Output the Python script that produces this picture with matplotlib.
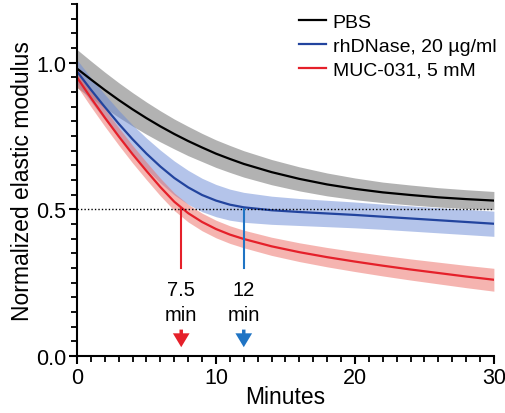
import matplotlib

matplotlib.use("Agg")
import matplotlib.pyplot as plt
from matplotlib.ticker import MultipleLocator

plt.rcParams["font.family"] = ["Liberation Sans", "DejaVu Sans"]

# minutes
minutes = [0, 1, 2, 3, 4, 5, 6, 7, 8, 9, 10, 11, 12, 14, 16, 18, 20, 22, 24, 26, 28, 30]

# PBS (black)
pbs = [0.98, 0.943, 0.907, 0.873, 0.841, 0.811, 0.783, 0.757, 0.733, 0.711, 0.69,
       0.672, 0.655, 0.627, 0.604, 0.585, 0.57, 0.558, 0.549, 0.541, 0.535, 0.53]
pbs_err = [0.065, 0.063, 0.061, 0.059, 0.057, 0.055, 0.053, 0.051, 0.05, 0.048, 0.047,
           0.046, 0.045, 0.043, 0.041, 0.039, 0.037, 0.035, 0.034, 0.033, 0.032, 0.031]

# rhDNase, 20 ug/ml (blue)
dnase = [0.97, 0.908, 0.849, 0.792, 0.739, 0.69, 0.646, 0.607, 0.575, 0.549, 0.53,
         0.516, 0.507, 0.497, 0.491, 0.486, 0.481, 0.475, 0.469, 0.463, 0.457, 0.451]
dnase_err = [0.04, 0.041, 0.043, 0.046, 0.049, 0.053, 0.056, 0.058, 0.058, 0.057, 0.055,
             0.053, 0.051, 0.048, 0.046, 0.045, 0.044, 0.043, 0.043, 0.043, 0.043, 0.043]

# MUC-031, 5 mM (red)
muc = [0.95, 0.88, 0.813, 0.749, 0.688, 0.631, 0.576, 0.526, 0.487, 0.457, 0.433,
       0.414, 0.399, 0.374, 0.354, 0.337, 0.322, 0.308, 0.295, 0.283, 0.271, 0.26]
muc_err = [0.03, 0.03, 0.03, 0.03, 0.03, 0.03, 0.03, 0.03, 0.03, 0.03, 0.03,
           0.03, 0.03, 0.031, 0.032, 0.033, 0.034, 0.035, 0.036, 0.037, 0.038, 0.039]

half_times = [7.5, 12]
half_values = ["7.5", "12"]
half_colors = ["#e5202a", "#1f74c4"]

fig = plt.figure(figsize=(5.05, 4.14), dpi=100)
ax = fig.add_axes([0.1525, 0.1377, 0.8255, 0.850])

series = [
    ("PBS", pbs, pbs_err, "black", "#666666"),
    ("rhDNase, 20 \u00b5g/ml", dnase, dnase_err, "#22449e", "#6a8ad6"),
    ("MUC-031, 5 mM", muc, muc_err, "#e5202a", "#ec6a62"),
]
for label, y, err, line_c, band_c in series:
    lo = [v - e for v, e in zip(y, err)]
    hi = [v + e for v, e in zip(y, err)]
    ax.fill_between(minutes, lo, hi, color=band_c, alpha=0.5, lw=0)
for label, y, err, line_c, band_c in series:
    ax.plot(minutes, y, color=line_c, lw=1.6, label=label)

ax.plot([0, 30], [0.5, 0.5], color="black", lw=1, ls=(0, (1, 1.5)))

for t, val, c in zip(half_times, half_values, half_colors):
    ax.plot([t, t], [0.5, 0.30], color=c, lw=1.5)
    ax.text(t, 0.228, val, ha="center", va="center", fontsize=14.5)
    ax.text(t, 0.142, "min", ha="center", va="center", fontsize=14.5)
    ax.annotate("", xy=(t, 0.03), xytext=(t, 0.09),
                arrowprops=dict(color=c, width=2.5, headwidth=12,
                                headlength=10, lw=0))

ax.set_xlim(0, 30)
ax.set_ylim(0, 1.2)
ax.set_xticks([0, 10, 20, 30])
ax.set_yticks([0.0, 0.5, 1.0])
ax.set_yticklabels(["0.0", "0.5", "1.0"])
ax.xaxis.set_minor_locator(MultipleLocator(1))
ax.yaxis.set_minor_locator(MultipleLocator(0.05))
ax.tick_params(which="major", length=6, width=1.5, labelsize=15.5, pad=2)
ax.tick_params(which="minor", length=4, width=1.3)
ax.spines[["top", "right"]].set_visible(False)
ax.spines[["left", "bottom"]].set_linewidth(1.5)

ax.set_xlabel("Minutes", fontsize=16.5, labelpad=-2)
ax.set_ylabel("Normalized elastic modulus", fontsize=16.5, labelpad=1)

ax.legend(loc="upper left", bbox_to_anchor=(0.532, 0.974), frameon=False,
          fontsize=14, handlelength=1.4, handletextpad=0.35,
          labelspacing=0.33, borderaxespad=0, borderpad=0)

fig.savefig("out.png", dpi=100)
